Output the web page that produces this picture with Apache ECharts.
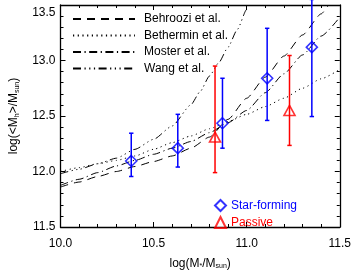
<!DOCTYPE html>
<html><head><meta charset="utf-8">
<script src="https://cdn.jsdelivr.net/npm/echarts@6/dist/echarts.min.js"></script>
<style>html,body{margin:0;padding:0;background:#fff}#c{width:354px;height:275px}</style>
</head><body><div id="c"></div>
<script>
// Model curves
const behrooziX = [10.0,10.1,10.2,10.3,10.4,10.5,10.6,10.7,10.8,10.9,11.0,11.1,11.2,11.3,11.4,11.44];
const behrooziY = [11.86,11.905,11.955,12.0,12.045,12.09,12.14,12.21,12.31,12.47,12.66,12.85,13.04,13.23,13.42,13.5];
const bethX = [10.0,10.1,10.2,10.3,10.4,10.5,10.6,10.7,10.8,10.9,11.0,11.1,11.2,11.3,11.4,11.5];
const bethY = [12.0,12.035,12.07,12.1,12.14,12.2,12.26,12.32,12.385,12.45,12.515,12.585,12.66,12.75,12.835,12.92];
const mosterX = [10.0,10.1,10.2,10.3,10.4,10.5,10.6,10.7,10.8,10.9,11.0,11.1,11.2,11.3,11.4,11.5];
const mosterY = [11.875,11.93,11.99,12.05,12.10,12.155,12.21,12.27,12.35,12.44,12.55,12.71,12.88,13.05,13.22,13.39];
const wangX = [10.0,10.1,10.2,10.3,10.4,10.5,10.6,10.7,10.75,10.8,10.85,10.9,10.95,11.0,11.01];
const wangY = [11.98,12.02,12.07,12.12,12.2,12.29,12.41,12.6,12.72,12.86,12.98,13.12,13.28,13.46,13.5];

// Star-forming (blue diamonds)
const sfX  = [10.38, 10.63, 10.87, 11.11, 11.35];
const sfY  = [12.095, 12.21, 12.435, 12.84, 13.12];
const sfLo = [11.955, 12.04, 12.21, 12.46, 12.495];
const sfHi = [12.345, 12.515, 12.84, 13.29, 13.55];
// Passive (red triangles)
const psX  = [10.83, 11.23];
const psY  = [12.31, 12.55];
const psLo = [11.99, 12.235];
const psHi = [12.95, 13.045];

const xTicks = [10.0, 10.5, 11.0, 11.5];
const yTicks = [11.5, 12.0, 12.5, 13.0, 13.5];

const FONT = 'Liberation Sans, Arial, Helvetica, sans-serif';
const zip = (a,b) => a.map((v,i)=>[v,b[i]]);

function errSeries(xs, lo, hi, color){
  return {
    type:'custom', silent:true, z:3,
    data: xs.map((x,i)=>[x, lo[i], hi[i]]),
    encode:{x:0, y:[1,2]},
    renderItem(params, api){
      const x = api.value(0);
      const p1 = api.coord([x, api.value(1)]);
      const p2 = api.coord([x, api.value(2)]);
      const cw = 2.2, st = {stroke:color, lineWidth:1.5};
      return {type:'group', children:[
        {type:'line', shape:{x1:p1[0],y1:p1[1],x2:p2[0],y2:p2[1]}, style:st},
        {type:'line', shape:{x1:p1[0]-cw,y1:p1[1],x2:p1[0]+cw,y2:p1[1]}, style:st},
        {type:'line', shape:{x1:p2[0]-cw,y1:p2[1],x2:p2[0]+cw,y2:p2[1]}, style:st}
      ]};
    }
  };
}

function axisCommon(show){
  return {
    type:'value',
    axisLine:{show:true, onZero:false, lineStyle:{color:'#000', width:1.3}},
    axisTick:{show:true, inside:true, length:5, lineStyle:{color:'#000', width:1}},
    minorTick:{show:true, splitNumber:5, length:3, lineStyle:{color:'#000', width:1}},
    splitLine:{show:false},
    minorSplitLine:{show:false},
    axisLabel:{show:show, color:'#000', fontSize:12, fontFamily:FONT, formatter:v=>v.toFixed(1)}
  };
}

const chart = echarts.init(document.getElementById('c'), null, {renderer:'canvas'});
const lineStyle = (dash) => ({color:'#000', width:1, type:dash});
const yMax = yTicks[yTicks.length-1];

chart.setOption({
  animation:false,
  backgroundColor:'#fff',
  grid:{left:53, right:7, top:5, bottom:43},
  xAxis:[
    Object.assign(axisCommon(true), {min:10, max:11.5, interval:0.5, position:'bottom',
      name:'{n|log(M}{s|*}{n|/M}{s|sun}{n|)}', nameLocation:'middle', nameGap:30,
      nameTextStyle:{rich:{n:{fontSize:12, fontFamily:FONT, color:'#000'}, s:{fontSize:7, fontFamily:FONT, color:'#000', verticalAlign:'bottom', padding:[6,0,0,0]}}},
      axisLabel:Object.assign(axisCommon(true).axisLabel, {margin:11})}),
    Object.assign(axisCommon(false), {min:10, max:11.5, interval:0.5, position:'top'})
  ],
  yAxis:[
    Object.assign(axisCommon(true), {min:11.5, max:13.5, interval:0.5, position:'left',
      name:'{n|log(<M}{s|h}{n|>/M}{s|sun}{n|)}', nameLocation:'middle', nameGap:40, nameRotate:90,
      nameTextStyle:{rich:{n:{fontSize:12, fontFamily:FONT, color:'#000'}, s:{fontSize:7, fontFamily:FONT, color:'#000', verticalAlign:'bottom', padding:[6,0,0,0]}}},
      axisLabel:Object.assign(axisCommon(true).axisLabel, {margin:5,
        formatter:v => Math.abs(v - yMax) < 1e-9 ? '{t|' + v.toFixed(1) + '}' : v.toFixed(1),
        rich:{t:{fontSize:12, fontFamily:FONT, color:'#000', padding:[15,0,0,0]}}})}),
    Object.assign(axisCommon(false), {min:11.5, max:13.5, interval:0.5, position:'right'})
  ],
  legend:[
    {data:['Behroozi et al.','Bethermin et al.','Moster et al.','Wang et al.'],
     orient:'vertical', left:67, top:8, itemWidth:62, itemHeight:12, itemGap:4.5,
     itemStyle:{opacity:0},
     selectedMode:false, textStyle:{fontSize:12, fontFamily:FONT, color:'#000', padding:[0,0,0,4]}},
    {data:[{name:'Star-forming', textStyle:{color:'#0000ff'}},{name:'Passive', textStyle:{color:'#ff0000'}}],
     orient:'vertical', left:209, top:194, itemWidth:11, itemHeight:11, itemGap:4,
     selectedMode:false, textStyle:{fontSize:12, fontFamily:FONT}}
  ],
  series:[
    {name:'Behroozi et al.', type:'line', color:'#000', data:zip(behrooziX,behrooziY), symbol:'none', smooth:0.2, smoothMonotone:'x', lineStyle:lineStyle([8,6]), z:2},
    {name:'Bethermin et al.', type:'line', color:'#000', data:zip(bethX,bethY), symbol:'none', smooth:0.2, smoothMonotone:'x', lineStyle:lineStyle([1.2,3.5]), z:2},
    {name:'Moster et al.', type:'line', color:'#000', data:zip(mosterX,mosterY), symbol:'none', smooth:0.2, smoothMonotone:'x', lineStyle:lineStyle([8,3.5,1.2,3.5]), z:2},
    {name:'Wang et al.', type:'line', color:'#000', data:zip(wangX,wangY), symbol:'none', smooth:0.2, smoothMonotone:'x', lineStyle:lineStyle([8,3.5,1.2,3.5,1.2,3.5,1.2,3.5]), z:2},
    errSeries(sfX, sfLo, sfHi, '#0000ff'),
    errSeries(psX, psLo, psHi, '#ff0000'),
    {name:'Star-forming', type:'scatter', data:zip(sfX,sfY), symbol:'diamond', symbolSize:[11,11], z:4,
     itemStyle:{color:'rgba(0,0,0,0)', borderColor:'#0000ff', borderWidth:1.6}},
    {name:'Passive', type:'scatter', data:zip(psX,psY), symbol:'triangle', symbolSize:[11,10], z:4,
     itemStyle:{color:'rgba(0,0,0,0)', borderColor:'#ff0000', borderWidth:1.6}}
  ]
});
</script>
</body></html>
